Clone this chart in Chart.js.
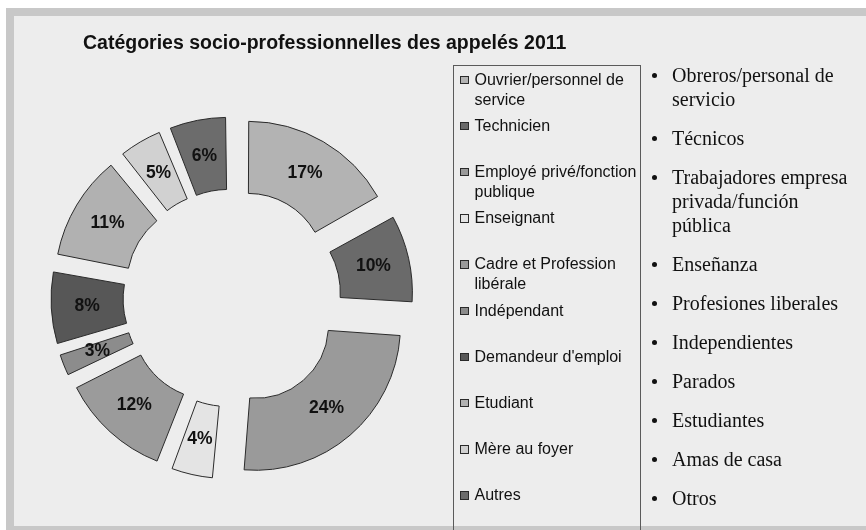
<!DOCTYPE html>
<html>
<head>
<meta charset="utf-8">
<script src="https://cdn.jsdelivr.net/npm/chart.js@4/dist/chart.umd.min.js"></script>
<style>
html,body{margin:0;padding:0;background:#fff;}
#stage{position:relative;width:866px;height:530px;overflow:hidden;font-family:"Liberation Sans",Arial,sans-serif;}
#frame{position:absolute;left:6px;top:8px;width:860px;height:522px;background:#c8c8c8;}
#inner{position:absolute;left:14px;top:16px;width:852px;height:510px;background:#ededed;}
#chart{position:absolute;left:0;top:0;}
#title{position:absolute;left:83px;top:32px;font-weight:bold;font-size:19.5px;line-height:20px;color:#111;white-space:nowrap;}
#legbox{position:absolute;left:453px;top:65px;width:188px;height:470px;border:1px solid #5a5a5a;box-sizing:border-box;}
.item{position:absolute;left:460px;font-size:16px;line-height:20px;color:#111;white-space:pre-line;}
.item .mk{position:absolute;left:0;top:6px;width:8.5px;height:8.5px;box-sizing:border-box;border:1px solid #2a2a2a;}
.item .tx{position:absolute;left:14.5px;top:0;white-space:pre;}
#es{position:absolute;left:672px;top:63px;margin:0;padding:0;list-style:none;font-family:"Liberation Serif","Times New Roman",serif;font-size:20px;line-height:24px;color:#111;}
#es li{position:relative;margin:0 0 15px 0;white-space:pre;}
#es li::before{content:"";position:absolute;left:-20.5px;top:9.5px;width:5.5px;height:5.5px;border-radius:50%;background:#111;}
</style>
</head>
<body>
<div id="stage">
  <div id="frame"></div>
  <div id="inner"></div>
  <canvas id="chart" width="866" height="530"></canvas>
  <div id="title">Catégories socio-professionnelles des appelés 2011</div>
  <div id="legbox"></div>
  <div id="legend"></div>
  <ul id="es"></ul>
</div>
<script>
// ---- data ----
const categories = [
  "Ouvrier/personnel de\nservice",
  "Technicien",
  "Employé privé/fonction\npublique",
  "Enseignant",
  "Cadre et Profession\nlibérale",
  "Indépendant",
  "Demandeur d'emploi",
  "Etudiant",
  "Mère au foyer",
  "Autres"
];
// shares (percent)
const shares = [16.8, 9.3, 25.1, 4.6, 11.8, 2.6, 7.7, 11.2, 4.7, 6.1];
// percentage labels printed on the slices
const pctLabels = ["17%", "10%", "24%", "4%", "12%", "3%", "8%", "11%", "5%", "6%"];
const spanishLabels = [
  "Obreros/personal de\nservicio",
  "Técnicos",
  "Trabajadores empresa\nprivada/función\npública",
  "Enseñanza",
  "Profesiones liberales",
  "Independientes",
  "Parados",
  "Estudiantes",
  "Amas de casa",
  "Otros"
];
// ---- styles ----
const sliceColors = ['#b3b3b3','#6a6a6a','#9a9a9a','#e4e4e4','#9b9b9b','#8c8c8c','#575757','#b1b1b1','#d1d1d1','#6c6c6c'];
const EXPLODE = 36;

// French legend (HTML)
const leg = document.getElementById('legend');
categories.forEach((c, i) => {
  const d = document.createElement('div');
  d.className = 'item';
  d.style.top = (69.5 + i * 46.2) + 'px';
  const m = document.createElement('div');
  m.className = 'mk';
  m.style.background = sliceColors[i];
  const t = document.createElement('div');
  t.className = 'tx';
  t.textContent = c;
  d.appendChild(m); d.appendChild(t);
  leg.appendChild(d);
});
// Spanish list
const es = document.getElementById('es');
spanishLabels.forEach(s => {
  const li = document.createElement('li');
  li.textContent = s;
  es.appendChild(li);
});

const total = shares.reduce((a, b) => a + b, 0);

const sliceLabels = {
  id: 'sliceLabels',
  afterDatasetsDraw(chart) {
    const ctx = chart.ctx;
    const meta = chart.getDatasetMeta(0);
    ctx.save();
    ctx.font = 'bold 17.5px "Liberation Sans", Arial, sans-serif';
    ctx.fillStyle = '#111';
    ctx.textAlign = 'center';
    ctx.textBaseline = 'middle';
    meta.data.forEach((arc, i) => {
      const p = arc.getProps(['x','y','startAngle','endAngle','innerRadius','outerRadius'], true);
      const mid = (p.startAngle + p.endAngle) / 2;
      const rr = (p.innerRadius + p.outerRadius) / 2 + EXPLODE;
      ctx.fillText(pctLabels[i], p.x + Math.cos(mid) * rr, p.y + Math.sin(mid) * rr);
    });
    ctx.restore();
  }
};

new Chart(document.getElementById('chart'), {
  type: 'doughnut',
  data: {
    labels: categories,
    datasets: [{
      data: shares,
      backgroundColor: sliceColors,
      borderColor: '#2a2a2a',
      borderWidth: 1,
      borderJoinStyle: 'miter',
      clip: false,
      offset: (c) => {
        const circ = c.raw / total * 2 * Math.PI;
        const fix = 1 - Math.sin(Math.min(Math.PI, circ));
        return 4 * EXPLODE / (1 + fix);
      }
    }]
  },
  options: {
    responsive: false,
    animation: false,
    devicePixelRatio: 1,
    radius: 145,
    cutout: '50.3%',
    layout: { padding: { left: 32, right: 434, top: 98, bottom: 32 } },
    plugins: {
      legend: { display: false },
      title: { display: false },
      tooltip: { enabled: false }
    },
    events: []
  },
  plugins: [sliceLabels]
});
</script>
</body>
</html>
